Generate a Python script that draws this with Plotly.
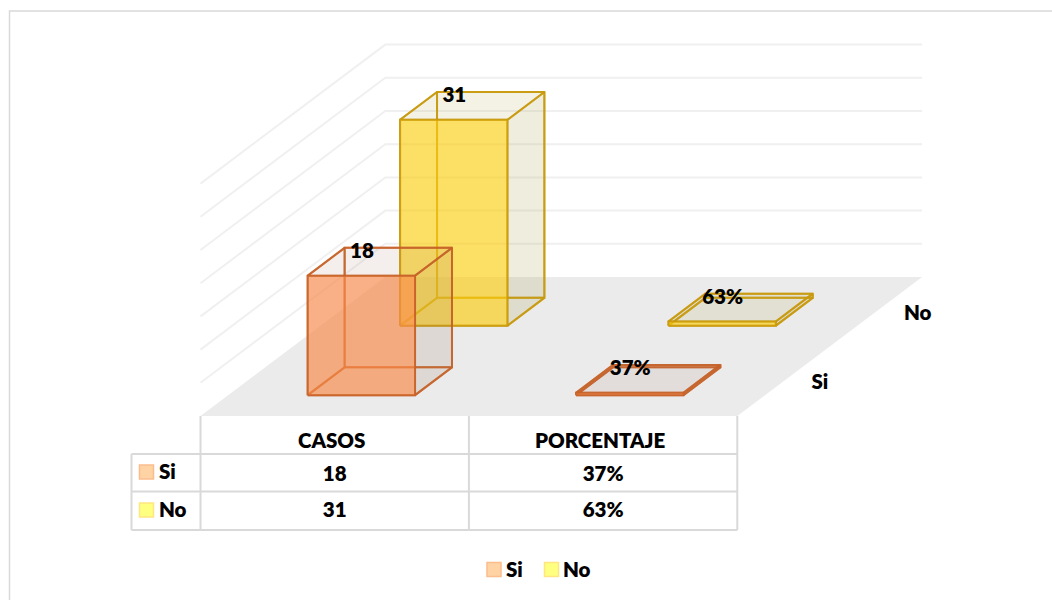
import plotly.graph_objects as go

categories = ["CASOS", "PORCENTAJE"]
series_names = ["Si", "No"]
si_values = [18, 0.37]
no_values = [31, 0.63]
si_labels = ["18", "37%"]
no_labels = ["31", "63%"]
z_ticks = [0, 5, 10, 15, 20, 25, 30, 35]

FONT = "Lato"
TXT = "#000000"
GRID = "#f0f0f0"
TBL = "#d9d9d9"
TEXT_DROP = 2

# Oblique projection of the 3-D chart box on to the page
def P(x, y, z):
    return 200.5 + 268.4 * x + 92.4 * y, 416 - 69.5 * y - 6.64 * z

fig = go.Figure()

def poly(points, fill=None, line=None, width=1.5):
    pts = [P(*p) for p in points]
    xs = [p[0] for p in pts]
    ys = [p[1] for p in pts]
    if fill:
        xs.append(xs[0]); ys.append(ys[0])
    fig.add_trace(go.Scatter(
        x=xs, y=ys, mode="lines", fill="toself" if fill else None,
        fillcolor=fill, line=dict(color=line or "rgba(0,0,0,0)", width=width if line else 0),
        hoverinfo="skip", showlegend=False))

def label(x, y, t, size=20.5, anchor="middle center"):
    fig.add_trace(go.Scatter(
        x=[x], y=[y + TEXT_DROP], mode="text", text=[t], textposition=anchor,
        textfont=dict(family=FONT, size=size, color=TXT, weight=800),
        hoverinfo="skip", showlegend=False))

def key(x, y, fill, edge, size=14):
    fig.add_trace(go.Scatter(
        x=[x], y=[y], mode="markers",
        marker=dict(symbol="square", size=size, color=fill, line=dict(color=edge, width=1.5)),
        hoverinfo="skip", showlegend=False))

# Frame
fig.add_trace(go.Scatter(x=[9.5, 9.5, 1052], y=[600, 11, 11], mode="lines",
                         line=dict(color="#d9d9d9", width=1.5), hoverinfo="skip", showlegend=False))

# Floor
poly([(0, 0, 0), (2, 0, 0), (2, 2, 0), (0, 2, 0)], fill="#ebebeb")

# Wall gridlines
for z in z_ticks[1:]:
    poly([(0, 0, z), (0, 2, z), (2, 2, z)], line=GRID, width=2)

# Bars
def bar(cat, row, val, front, side, top, edge):
    x0, x1 = cat + 0.296, cat + 0.696
    y0, y1 = row + 0.3, row + 0.7
    poly([(x0, y0, 0), (x1, y0, 0), (x1, y1, 0), (x0, y1, 0)], fill=side, line=edge, width=2)
    poly([(x0, y1, 0), (x1, y1, 0), (x1, y1, val), (x0, y1, val)], fill=side, line=edge, width=2)
    poly([(x0, y0, 0), (x0, y1, 0), (x0, y1, val), (x0, y0, val)], fill=side, line=edge, width=2)
    poly([(x1, y0, 0), (x1, y1, 0), (x1, y1, val), (x1, y0, val)], fill=side, line=edge, width=2)
    poly([(x0, y0, val), (x1, y0, val), (x1, y1, val), (x0, y1, val)], fill=top, line=edge, width=2)
    poly([(x0, y0, 0), (x1, y0, 0), (x1, y0, val), (x0, y0, val)], fill=front, line=edge, width=2)

STYLES = {
    "Si": dict(front="rgba(250,140,75,0.65)", side="rgba(170,130,115,0.09)",
               top="rgba(190,140,100,0.04)", edge="rgba(198,98,40,0.8)"),
    "No": dict(front="rgba(255,209,16,0.62)", side="rgba(170,150,70,0.09)",
               top="rgba(200,170,70,0.05)", edge="rgba(200,152,10,0.8)"),
}
for row, (name, vals) in reversed(list(enumerate(zip(series_names, [si_values, no_values])))):
    for c, v in enumerate(vals):
        bar(c, row, v, **STYLES[name])

# Data labels
for row, (vals, texts) in enumerate([(si_values, si_labels), (no_values, no_labels)]):
    for c, (v, t) in enumerate(zip(vals, texts)):
        px, py = P(c + 0.5, row + 0.5, v)
        label(px - 19, py - 11, t)

# Depth axis labels
for row, name in enumerate(series_names):
    px, py = P(2, row + 0.5, 0)
    label(px + 28, py + 1, name, anchor="middle right")

# Data table
x_a, _ = P(0, 0, 0)
x_b, _ = P(1, 0, 0)
x_c, _ = P(2, 0, 0)
X_LEFT = 131.5
ROWS = [416, 454, 491.5, 530]
for xv, top in [(X_LEFT, ROWS[1]), (x_a, ROWS[0]), (x_b, ROWS[0]), (x_c, ROWS[0])]:
    fig.add_trace(go.Scatter(x=[xv, xv], y=[top, ROWS[3]], mode="lines",
                             line=dict(color=TBL, width=2), hoverinfo="skip", showlegend=False))
for yv in ROWS[1:]:
    fig.add_trace(go.Scatter(x=[X_LEFT, x_c], y=[yv, yv], mode="lines",
                             line=dict(color=TBL, width=2), hoverinfo="skip", showlegend=False))

label((x_a + x_b) / 2 - 3, 441, categories[0])
label((x_b + x_c) / 2 - 3, 441, categories[1])
label((x_a + x_b) / 2, 474, si_labels[0])
label((x_a + x_b) / 2, 510, no_labels[0])
label((x_b + x_c) / 2, 474, si_labels[1])
label((x_b + x_c) / 2, 510, no_labels[1])

KEY_FILL = {"Si": "#ffd3a3", "No": "#ffff80"}
KEY_EDGE = {"Si": "#fbbd8c", "No": "#ffe680"}
for name, yv in zip(series_names, [472, 510]):
    key(146.5, yv, KEY_FILL[name], KEY_EDGE[name])
    label(159, yv, name, anchor="middle right")

# Legend
for name, kx, tx in zip(series_names, [494, 551.5], [506, 563]):
    key(kx, 569.5, KEY_FILL[name], KEY_EDGE[name])
    label(tx, 569.5, name, anchor="middle right")

fig.update_layout(
    width=1052, height=600, autosize=False,
    margin=dict(l=0, r=0, t=0, b=0),
    paper_bgcolor="white", plot_bgcolor="white",
    showlegend=False, hovermode=False,
    xaxis=dict(range=[0, 1052], visible=False, fixedrange=True),
    yaxis=dict(range=[600, 0], visible=False, fixedrange=True),
)
fig.write_html("out.html", config={"displayModeBar": False},
               post_script="document.body.style.margin='0';document.body.style.overflow='hidden';")
